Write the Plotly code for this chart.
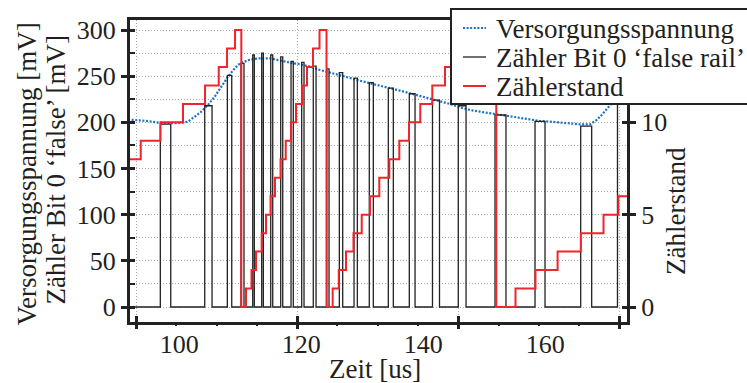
import plotly.graph_objects as go

# ---------------- data ----------------
# Supply voltage (mV) vs time (us)
vdd_t = [91.61, 93.25, 94.89, 96.52, 98.16, 99.80, 101.44, 102.54, 103.62, 104.72,
         105.82, 106.90, 108.00, 109.10, 109.97, 111.61, 113.25, 114.89, 116.52, 118.16,
         119.80, 121.44, 123.08, 124.72, 126.36, 128.00, 129.64, 131.28, 132.92, 134.56,
         136.20, 137.84, 139.48, 141.11, 142.75, 144.39, 146.03, 147.67, 149.31, 150.95,
         152.59, 154.23, 155.87, 157.51, 159.15, 160.79, 162.43, 164.07, 165.70, 167.34,
         168.44, 169.26, 170.08, 170.90, 171.77, 172.75, 173.90]
vdd_mv = [203, 202.6, 201.5, 199.7, 199, 199, 200.8, 206, 211.6, 218.9,
          227.8, 238.7, 249.5, 258.6, 264, 268, 269.4, 269.4, 266.9, 264.7,
          263, 260.4, 256.8, 254, 251.4, 248.8, 245.2, 242.3, 239.8, 237.6,
          234.4, 231.5, 228.6, 225.3, 223.2, 219.9, 216.3, 213.4, 211.6, 209.8,
          208, 206.2, 204.4, 202.6, 201.5, 200.8, 199.7, 199, 197.9, 197.9,
          202.6, 208, 214.2, 220.7, 232, 248, 265]

# Counter bit 0 'false rail' pulses: rise time, fall time (us), high level (mV)
pulse_rise = [96.90, 104.18, 107.89, 110.13, 112.05, 113.52, 115.00, 116.64, 118.33, 120.08,
              121.98, 124.18, 126.25, 128.66, 131.16, 134.28, 137.72, 141.52, 145.75, 151.77,
              158.33, 165.82, 171.85]
pulse_fall = [98.61, 105.38, 108.61, 110.62, 112.31, 113.79, 115.33, 116.97, 118.70, 120.46,
              122.43, 124.56, 126.80, 129.20, 131.82, 135.10, 138.66, 142.67, 147.02, 153.57,
              159.97, 167.62, 175.00]
pulse_top = [198, 218, 251, 264, 273, 275, 273, 271, 266, 265,
             261, 258, 254, 248, 243, 237, 231, 224, 218, 208,
             201, 196, 300]
trace_start = 91.5

# Counter value (Zählerstand): step times (us) and values
count_t = [91.5, 93.69, 96.93, 100.62, 104.23, 106.48, 107.84, 109.15,
           110.18, 110.95, 111.85, 112.59, 113.52, 114.23, 114.97, 115.70,
           116.61, 117.46, 118.33, 119.15, 120.13, 120.95, 121.93, 123.00,
           124.15, 125.16, 126.16, 127.34, 128.57, 129.92, 131.28, 132.80,
           134.44, 136.08, 137.67, 139.52, 141.49, 143.57, 145.79, 148.82,
           151.98, 155.13, 158.41, 162.03, 165.84, 169.56, 171.98, 173.9]
count_v = [8, 9, 10, 11, 12, 13, 14, 15,
           0, 1, 2, 3, 4, 5, 6, 7,
           8, 9, 10, 11, 12, 13, 14, 15,
           0, 1, 2, 3, 4, 5, 6, 7,
           8, 9, 10, 11, 12, 13, 14, 15,
           0, 1, 2, 3, 4, 5, 6, 6]

series_names = ["Versorgungsspannung", "Zähler Bit 0 ‘false rail’", "Zählerstand"]

x_ticks = [100, 120, 140, 160]
x_grid_ticks = [92.93, 119.34, 145.75, 172.16]
x_minor_ticks = [99.53, 106.14, 112.74, 125.94, 132.55, 139.15, 152.35, 158.96, 165.56]
y_ticks = [0, 50, 100, 150, 200, 250, 300]
y2_ticks = [0, 5, 10]

x_range = [91.93, 173.41]
y_range = [-16.25, 310.9]
y2_range = [y_range[0] / 20.0, y_range[1] / 20.0]

# ---------------- build black pulse trace ----------------
bx, by = [trace_start], [0]
for r, f, h in zip(pulse_rise, pulse_fall, pulse_top):
    bx += [r, r, f, f]
    by += [0, h, h, 0]

FONT = "Liberation Serif"
TXT = "#231f20"
GRID = "#a8a8a8"
BLUE = "#1a72c4"
BLACK = "#222222"
RED = "#f0242c"
BLUE_DASH = "2px,1.6px"

fig = go.Figure()
fig.add_trace(go.Scatter(x=vdd_t, y=vdd_mv, mode="lines", name=series_names[0],
                         line=dict(color=BLUE, width=2.2, dash=BLUE_DASH),
                         xaxis="x", yaxis="y"))
fig.add_trace(go.Scatter(x=bx, y=by, mode="lines", name=series_names[1],
                         line=dict(color=BLACK, width=1.3),
                         xaxis="x", yaxis="y"))
fig.add_trace(go.Scatter(x=count_t, y=count_v, mode="lines", name=series_names[2],
                         line=dict(color=RED, width=2, shape="hv"),
                         xaxis="x", yaxis="y2"))

tick_font = dict(family=FONT, size=26, color=TXT)

fig.update_layout(
    width=747, height=383,
    margin=dict(l=130, r=120, t=20, b=61, autoexpand=False),
    paper_bgcolor="white", plot_bgcolor="white",
    font=dict(family=FONT, size=26, color=TXT),
    showlegend=False,
    xaxis=dict(range=x_range, tickmode="array", tickvals=x_ticks,
               ticktext=[str(v) for v in x_ticks],
               ticks="", ticklabelstandoff=-3,
               showline=True, linewidth=3, linecolor=BLACK, mirror=True,
               showgrid=False, zeroline=False, tickfont=tick_font),
    xaxis2=dict(range=x_range, overlaying="x", anchor="y", side="bottom",
                tickmode="array", tickvals=x_grid_ticks, showticklabels=False,
                ticks="outside", ticklen=6, tickwidth=2.5, tickcolor=BLACK,
                showgrid=True, gridcolor=GRID, griddash="1px,2px", gridwidth=1,
                minor=dict(tickmode="array", tickvals=x_minor_ticks, ticks="outside",
                           ticklen=3, tickwidth=2, tickcolor=BLACK, showgrid=False),
                showline=False, zeroline=False),
    xaxis3=dict(range=x_range, overlaying="x", anchor="y", side="bottom",
                tickmode="array", tickvals=x_grid_ticks, showticklabels=False,
                ticks="inside", ticklen=6, tickwidth=2.5, tickcolor=BLACK,
                showgrid=False, showline=False, zeroline=False),
    yaxis=dict(range=y_range, tickmode="array", tickvals=y_ticks,
               ticks="outside", ticklen=6, tickwidth=2.5, tickcolor=BLACK,
               showline=True, linewidth=3, linecolor=BLACK,
               showgrid=True, gridcolor=GRID, griddash="1px,2px", gridwidth=1,
               minor=dict(dtick=25, tick0=0, ticks="inside", ticklen=5, tickwidth=1.5,
                          tickcolor=BLACK, showgrid=True, gridcolor=GRID,
                          griddash="1px,2px", gridwidth=1),
               zeroline=False, tickfont=tick_font),
    yaxis3=dict(range=y_range, overlaying="y", anchor="x", side="left",
                tickmode="array", tickvals=y_ticks, showticklabels=False,
                ticks="inside", ticklen=5, tickwidth=2.5, tickcolor=BLACK,
                showgrid=False, showline=False, zeroline=False),
    yaxis2=dict(range=y2_range, overlaying="y", anchor="x", side="right",
                tickmode="array", tickvals=y2_ticks,
                ticks="outside", ticklen=6, tickwidth=2.5, tickcolor=BLACK,
                showline=True, linewidth=3, linecolor=BLACK,
                showgrid=False, zeroline=False, tickfont=tick_font),
    yaxis4=dict(range=y2_range, overlaying="y", anchor="x", side="right",
                tickmode="array", tickvals=y2_ticks, showticklabels=False,
                ticks="inside", ticklen=5, tickwidth=2.5, tickcolor=BLACK,
                showgrid=False, showline=False, zeroline=False),
)

# invisible helper traces so the overlay tick axes are rendered
for xa, ya in [("x2", "y"), ("x3", "y3"), ("x", "y4")]:
    fig.add_trace(go.Scatter(x=[x_range[0]], y=[0], mode="markers", showlegend=False,
                             hoverinfo="skip", marker=dict(opacity=0),
                             xaxis=xa, yaxis=ya))


def px_x(p):
    return (p - 130) / 497.0


def px_y(p):
    return (322 - p) / 302.0


annos = [
    dict(text="Zeit [us]", x=px_x(374.6), y=px_y(369), textangle=0),
    dict(text="Versorgungsspannung [mV]", x=px_x(26.5), y=px_y(174), textangle=-90),
    dict(text="Zähler Bit 0 ‘false’ [mV]", x=px_x(55.5), y=px_y(170), textangle=-90),
    dict(text="Zählerstand", x=px_x(676), y=px_y(211), textangle=-90),
]
for a in annos:
    fig.add_annotation(xref="paper", yref="paper", showarrow=False,
                       xanchor="center", yanchor="middle",
                       font=dict(family=FONT, size=27, color=TXT), **a)

# ---------------- legend box (drawn) ----------------
fig.add_shape(type="rect", xref="paper", yref="paper", layer="above",
              x0=px_x(451), x1=px_x(770), y0=px_y(104), y1=px_y(9),
              fillcolor="white", line=dict(color=BLACK, width=2))
legend_rows = [(28, BLUE, BLUE_DASH, 2.2), (57, BLACK, "solid", 1.3), (86, RED, "solid", 2)]
for (ry, col, dash, w), name in zip(legend_rows, series_names):
    fig.add_shape(type="line", xref="paper", yref="paper", layer="above",
                  x0=px_x(463), x1=px_x(486), y0=px_y(ry), y1=px_y(ry),
                  line=dict(color=col, width=w, dash=dash))
    fig.add_annotation(xref="paper", yref="paper", showarrow=False,
                       x=px_x(494), y=px_y(ry + 1), xanchor="left", yanchor="middle",
                       text=name, font=dict(family=FONT, size=27, color=TXT))

fig.write_html("out.html", config={"displayModeBar": False},
               post_script="document.body.style.margin='0';")
